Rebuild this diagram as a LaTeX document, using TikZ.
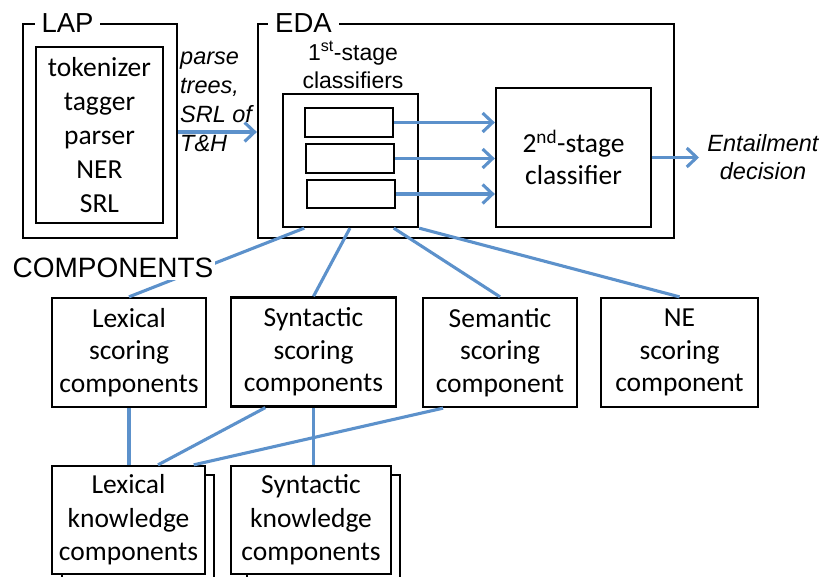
\documentclass[tikz,border=0pt]{standalone}
\usepackage{fontspec}
\setmainfont{Carlito}
\newfontfamily\arialf{Liberation Sans}
\usetikzlibrary{arrows.meta,calc}
\definecolor{conn}{RGB}{92,145,203}
\begin{document}
\begin{tikzpicture}[x=1pt,y=-1pt,
  box/.style={draw=black,line width=2.3pt,inner sep=0pt,align=center},
  cali/.style={font=\fontsize{27.5}{32.5}\selectfont},
  ariallbl/.style={font=\arialf\fontsize{27.5}{30}\selectfont,fill=white,inner xsep=7pt,inner ysep=1pt,text height=20pt,text depth=0pt,anchor=base},
  ital/.style={font=\arialf\itshape\fontsize{23.5}{27.5}\selectfont},
  link/.style={draw=conn,line width=3.1pt},
  arr/.style={link,-{Straight Barb[length=10pt,width=19pt]}}]
\useasboundingbox (0,0) rectangle (827,577);
\clip (0,0) rectangle (827,577);

% LAP
\node[box,minimum width=154pt,minimum height=214pt] (lap) at (100,131) {};
\node[ariallbl] (laplbl) at (67.5,33) {LAP};
\node[box,minimum width=127pt,minimum height=176pt,font=\fontsize{27.5}{34.2}\selectfont] (lapin) at (99.5,135) {tokenizer\\tagger\\parser\\NER\\SRL};

% EDA
\node[box,minimum width=416pt,minimum height=214pt] (eda) at (466,131) {};
\node[ariallbl] (edalbl) at (303.5,33) {EDA};
\node[font=\arialf\fontsize{23}{28}\selectfont,align=center,inner sep=0pt] (firstlbl) at (353,65) {1\textsuperscript{st}-stage\\classifiers};
\node[box,minimum width=135pt,minimum height=133pt] (first) at (350.5,160.5) {};
\node[box,minimum width=88pt,minimum height=29pt] (c1) at (349,122.5) {};
\node[box,minimum width=88pt,minimum height=29pt] (c2) at (350,158.5) {};
\node[box,minimum width=88pt,minimum height=28pt] (c3) at (351,194) {};
\node[box,cali,minimum width=155pt,minimum height=139pt] (second) at (573.5,157.5) {2\textsuperscript{nd}-stage\\classifier};
\coordinate (outend) at (699,157.5);
\node[ital,align=center,inner sep=0pt] (decision) at (763,157) {Entailment\\decision};

% LAP -> EDA
\draw[arr] (lap.east |- 0,132) -- (eda.west |- 0,132);
\node[ital,align=left,inner sep=0pt,anchor=north west,font=\arialf\itshape\fontsize{23.5}{29}\selectfont] (parselbl) at (180,52) {parse\\trees,\\SRL of\\T\&H};

\draw[arr] (c1.east) -- (second.west |- c1.east);
\draw[arr] (c2.east) -- (second.west |- c2.east);
\draw[arr] (c3.east) -- (second.west |- c3.east);
\draw[arr] (second.east) -- (outend);

% scoring components
\node[box,cali,minimum width=154pt,minimum height=109pt] (lexs) at (129,352.5) {Lexical\\scoring\\components};
\node[box,cali,minimum width=165pt,minimum height=109pt] (syns) at (313.5,352) {Syntactic\\scoring\\components};
\node[box,cali,minimum width=154pt,minimum height=109pt] (sems) at (500,352.5) {Semantic\\scoring\\component};
\node[box,cali,minimum width=157pt,minimum height=109pt] (nes) at (679.5,352.5) {NE\\scoring\\component};

% knowledge components (stacked)
\draw[line width=2.3pt] (62,590) rectangle (214,475);
\draw[line width=2.3pt] (247,590) rectangle (400,475);
\node[box,fill=white,minimum width=153pt,minimum height=108pt,font=\fontsize{27.5}{33.5}\selectfont] (lexk) at (128.5,520) {Lexical\\knowledge\\components};
\node[box,fill=white,minimum width=160pt,minimum height=108pt,font=\fontsize{27.5}{33.5}\selectfont] (synk) at (311,520) {Syntactic\\knowledge\\components};

% connectors from first stage to components
\draw[link] ($(first.south west)!0.163!(first.south east)$) -- (lexs.north);
\draw[link] ($(first.south west)!0.496!(first.south east)$) -- (syns.north);
\draw[link] ($(first.south west)!0.815!(first.south east)$) -- (sems.north);
\draw[link] (first.south east) -- (nes.north);

\node[font=\arialf\fontsize{28}{30}\selectfont,fill=white,inner xsep=2pt,inner ysep=2pt] (comp) at (113,268) {COMPONENTS};

% scoring -> knowledge
\draw[link] (lexs.south) -- (lexs.south |- lexk.north);
\draw[link] ($(syns.south west)!0.212!(syns.south east)$) -- ($(lexk.north west)!0.69!(lexk.north east)$);
\draw[link] (syns.south) -- (syns.south |- synk.north);
\draw[link] ($(sems.south west)!0.136!(sems.south east)$) -- ($(lexk.north west)!0.92!(lexk.north east)$);
\end{tikzpicture}
\end{document}
